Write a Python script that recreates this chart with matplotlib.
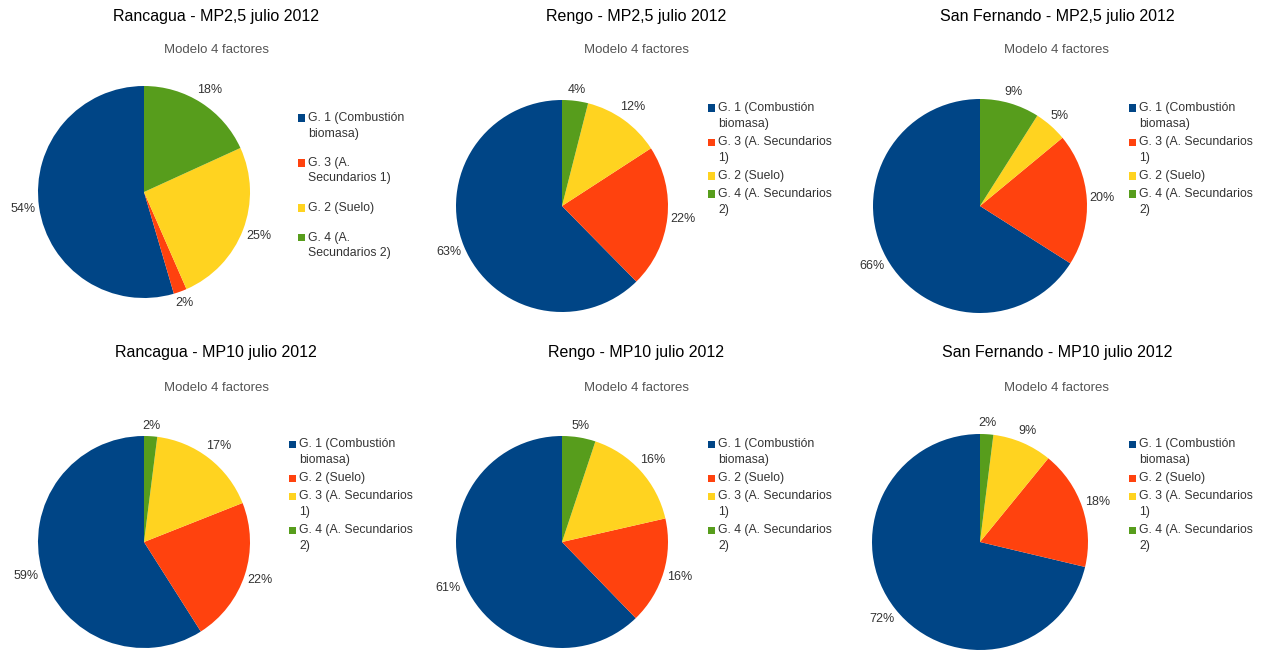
import numpy as np
import matplotlib.pyplot as plt
from matplotlib.patches import Rectangle

plt.rcParams['font.family'] = ['Liberation Sans', 'DejaVu Sans']

# colores por defecto de LibreOffice
colors = ['#004586', '#ff420e', '#ffd320', '#579d1c']

titles = ['Rancagua - MP2,5 julio 2012', 'Rengo - MP2,5 julio 2012', 'San Fernando - MP2,5 julio 2012',
          'Rancagua - MP10 julio 2012', 'Rengo - MP10 julio 2012', 'San Fernando - MP10 julio 2012']
subtitle = 'Modelo 4 factores'

# porcentajes de cada grupo (orden de la leyenda)
rancagua_mp25 = [54, 2, 25, 18]
rengo_mp25 = [63, 22, 12, 4]
sanfer_mp25 = [66, 20, 5, 9]
rancagua_mp10 = [59, 22, 17, 2]
rengo_mp10 = [61, 16, 16, 5]
sanfer_mp10 = [72, 18, 9, 2]

labels_mp25_a = ['G. 1 (Combustión\nbiomasa)', 'G. 3 (A.\nSecundarios 1)', 'G. 2 (Suelo)', 'G. 4 (A.\nSecundarios 2)']
labels_mp25_b = ['G. 1 (Combustión\nbiomasa)', 'G. 3 (A. Secundarios\n1)', 'G. 2 (Suelo)', 'G. 4 (A. Secundarios\n2)']
labels_mp10 = ['G. 1 (Combustión\nbiomasa)', 'G. 2 (Suelo)', 'G. 3 (A. Secundarios\n1)', 'G. 4 (A. Secundarios\n2)']

values = [rancagua_mp25, rengo_mp25, sanfer_mp25, rancagua_mp10, rengo_mp10, sanfer_mp10]
legend_labels = [labels_mp25_a, labels_mp25_b, labels_mp25_b, labels_mp10, labels_mp10, labels_mp10]

# layout en pixeles: centro del pie, radio, leyenda, titulo
W, H = 1270, 653
centers = [(144, 192), (562, 206), (980, 206), (144, 542), (562, 542), (980, 542)]
radius = [106, 106, 107, 106, 106, 108]
legend_pos = [(298, 118), (708, 108), (1129, 108), (289, 444), (708, 444), (1129, 444)]
legend_gap = [14, 2, 2, 2, 2, 2]
line_h = [15.5, 16, 16, 16, 16, 16]
title_x = [216, 636, 1057, 216, 636, 1057]
title_y = [17, 17, 17, 353, 353, 353]
sub_y = [50, 50, 50, 388, 388, 388]


def fx(x):
    return x / W


def fy(y):
    return 1 - y / H


fig = plt.figure(figsize=(12.7, 6.53), dpi=100)

for i in range(6):
    cx, cy = centers[i]
    r = radius[i]
    ax = fig.add_axes([fx(cx - r), fy(cy + r), 2 * r / W, 2 * r / H])
    wedges, _ = ax.pie(values[i], colors=colors, startangle=90, counterclock=True,
                       wedgeprops=dict(linewidth=0))
    ax.set_xlim(-1, 1)
    ax.set_ylim(-1, 1)

    # etiquetas de porcentaje fuera del pie
    for w, v in zip(wedges, values[i]):
        a = np.deg2rad((w.theta1 + w.theta2) / 2)
        txt = f'{v}%'
        hw = len(txt) * 3.6
        d = 1.04 + (hw * abs(np.cos(a)) + 6 * abs(np.sin(a))) / r
        ax.text(d * np.cos(a), d * np.sin(a), txt, ha='center', va='center',
                fontsize=9, color='#333333')

    fig.text(fx(title_x[i]), fy(title_y[i]), titles[i], ha='center', va='center',
             fontsize=11.5, color='#000000')
    fig.text(fx(title_x[i]), fy(sub_y[i]), subtitle, ha='center', va='center',
             fontsize=9.5, color='#555555')

    # leyenda: cuadrado alineado con la primera linea
    lx, ly = legend_pos[i]
    y = ly
    for lab, col in zip(legend_labels[i], colors):
        fig.add_artist(Rectangle((fx(lx), fy(y + 3.5)), 7 / W, 7 / H,
                                 transform=fig.transFigure, facecolor=col, edgecolor='none'))
        lines = lab.split('\n')
        for k, line in enumerate(lines):
            fig.text(fx(lx + 10), fy(y + k * line_h[i]), line, ha='left', va='center',
                     fontsize=8.8, color='#333333')
        y += len(lines) * line_h[i] + legend_gap[i]

fig.savefig('out.png', dpi=100)
